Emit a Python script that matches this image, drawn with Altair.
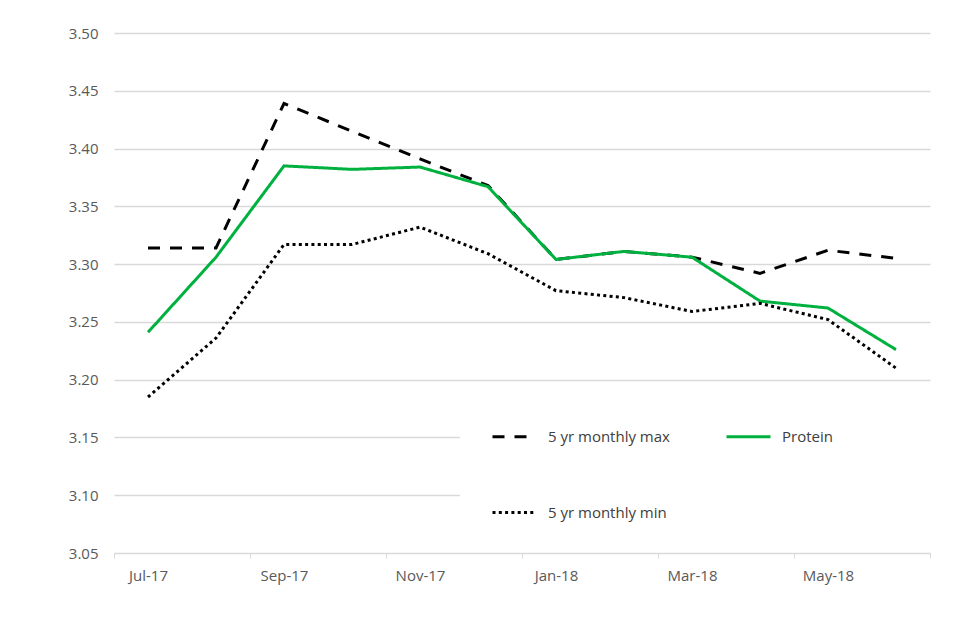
import altair as alt
import pandas as pd

months = ["Jul-17", "Aug-17", "Sep-17", "Oct-17", "Nov-17", "Dec-17",
          "Jan-18", "Feb-18", "Mar-18", "Apr-18", "May-18", "Jun-18"]
max_vals = [3.314, 3.314, 3.439, 3.415, 3.391, 3.368, 3.304, 3.311, 3.306, 3.292, 3.312, 3.305]
protein_vals = [3.241, 3.306, 3.385, 3.382, 3.384, 3.367, 3.304, 3.311, 3.306, 3.268, 3.262, 3.226]
min_vals = [3.185, 3.236, 3.317, 3.317, 3.332, 3.309, 3.277, 3.271, 3.259, 3.266, 3.252, 3.210]
labeled_months = ["Jul-17", "Sep-17", "Nov-17", "Jan-18", "Mar-18", "May-18"]
y_ticks = [3.05, 3.10, 3.15, 3.20, 3.25, 3.30, 3.35, 3.40, 3.45, 3.50]

S_MAX, S_PRO, S_MIN = "5 yr monthly max", "Protein", "5 yr monthly min"
series_order = [S_MAX, S_PRO, S_MIN]

rows = []
for name, vals in [(S_MAX, max_vals), (S_PRO, protein_vals), (S_MIN, min_vals)]:
    for m, v in zip(months, vals):
        rows.append({"month": m, "value": v, "series": name})
df = pd.DataFrame(rows)

label_list = "[" + ",".join("'" + m + "'" for m in labeled_months) + "]"

x_enc = alt.X(
    "month:O",
    sort=months,
    title=None,
    bandPosition=0.5,
    scale=alt.Scale(type="band", paddingInner=0, paddingOuter=0),
    axis=alt.Axis(
        tickBand="extent",
        labelAngle=0,
        labelExpr=f"indexof({label_list}, datum.value) >= 0 ? datum.label : ''",
        tickOpacity={"condition": {"test": f"indexof({label_list}, datum.value) >= 0", "value": 0}, "value": 1},
        domainColor="#d9d9d9",
        tickColor="#d9d9d9",
        tickSize=5,
        labelPadding=10,
        labelFontSize=15,
        labelColor="#595959",
        labelFont="Open Sans",
        grid=False,
        zindex=1,
    ),
)
y_enc = alt.Y(
    "value:Q",
    title=None,
    scale=alt.Scale(domain=[3.05, 3.50], nice=False, zero=False),
    axis=alt.Axis(
        values=y_ticks,
        format=".2f",
        domain=False,
        ticks=False,
        labelPadding=16,
        labelFontSize=15,
        labelColor="#595959",
        labelFont="Open Sans",
        gridColor="#d9d9d9",
        gridWidth=1.3,
    ),
)
color_enc = alt.Color(
    "series:N",
    sort=series_order,
    scale=alt.Scale(domain=series_order, range=["#000000", "#00b140", "#000000"]),
    legend=alt.Legend(
        title=" ",
        titleOrient="right",
        titlePadding=70,
        orient="none",
        direction="horizontal",
        legendX=346,
        legendY=349,
        columns=2,
        values=series_order,
        symbolType="stroke",
        symbolSize=1936,
        symbolStrokeWidth=3,
        labelFontSize=15,
        labelFont="Open Sans",
        labelColor="#404040",
        labelOffset=10,
        columnPadding=50,
        rowPadding=44,
        padding=31,
        fillColor="white",
        zindex=0,
    ),
)
dash_enc = alt.StrokeDash(
    "series:N",
    sort=series_order,
    scale=alt.Scale(domain=series_order, range=[[12, 10], [1, 0], [3, 3.3]]),
    legend=alt.Legend(title=" "),
)

layers = []
for name in series_order:
    layers.append(
        alt.Chart(df)
        .transform_filter(alt.datum.series == name)
        .mark_line(strokeWidth=3)
        .encode(x=x_enc, y=y_enc, color=color_enc, strokeDash=dash_enc)
    )

chart = (
    alt.layer(*layers)
    .properties(
        width=816,
        height=520,
        autosize=alt.AutoSizeParams(type="none"),
        padding={"left": 106, "top": 25, "right": 20, "bottom": 60},
        background="white",
    )
    .configure_view(stroke=None)
)

chart.save("out.html", embed_options={"renderer": "svg", "actions": False})
